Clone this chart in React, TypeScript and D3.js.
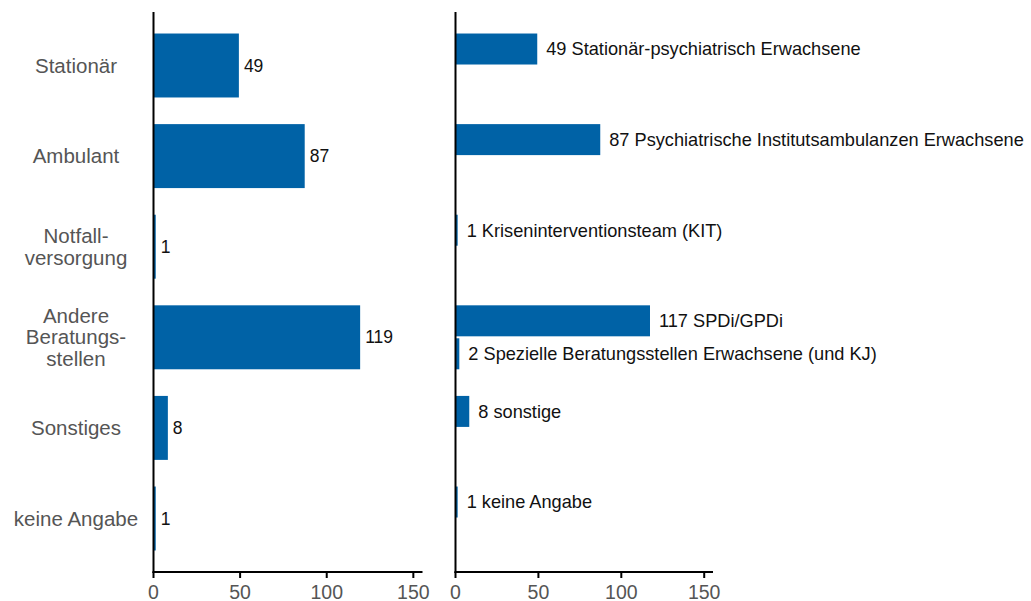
import React from "react";
import * as d3 from "d3";

const categories = [
  ["Stationär"],
  ["Ambulant"],
  ["Notfall-", "versorgung"],
  ["Andere", "Beratungs-", "stellen"],
  ["Sonstiges"],
  ["keine Angabe"],
];
const leftValues = [49, 87, 1, 119, 8, 1];

const rightLabels = [
  "Stationär-psychiatrisch Erwachsene",
  "Psychiatrische Institutsambulanzen Erwachsene",
  "Kriseninterventionsteam (KIT)",
  "SPDi/GPDi",
  "Spezielle Beratungsstellen Erwachsene (und KJ)",
  "sonstige",
  "keine Angabe",
];
const rightValues = [49, 87, 1, 117, 2, 8, 1];
const rightGroup = [0, 1, 2, 3, 3, 4, 5];
const rightSlot = [0, 0, 0, 0, 1, 0, 0];

const ticks = [0, 50, 100, 150];

const BLUE = "#0062a6";
const GRAY = "#555555";
const FONT = "'Liberation Sans', Arial, sans-serif";

export default function App() {
  const W = 1031, H = 601;
  const top = 12, bottom = 572;
  const idx = categories.map((_, i) => i);
  const y = d3.scaleBand<number>().domain(idx).range([top, bottom]).paddingInner(0.294).paddingOuter(0.2375);
  const xL = d3.scaleLinear().domain([0, 155]).range([154, 422.5]);
  const xR = d3.scaleLinear().domain([0, 155]).range([456, 713]);
  const sub = d3.scaleBand<number>().domain([0, 1]).range([0, y.bandwidth()]).paddingInner(0.06);

  return (
    <svg width={W} height={H} style={{ position: "absolute", left: 0, top: 0 }} fontFamily={FONT}>
      {/* left panel */}
      {leftValues.map((v, i) => (
        <g key={"l" + i}>
          <rect x={xL(0)} y={y(i)} width={xL(v) - xL(0)} height={y.bandwidth()} fill={BLUE} />
          <text x={xL(v) + 5} y={y(i)! + y.bandwidth() / 2} dy="0.35em" fontSize={17.5} fill="#111">{v}</text>
        </g>
      ))}
      {categories.map((lines, i) => {
        const c = y(i)! + y.bandwidth() / 2;
        const lh = 21.8;
        return (
          <text key={"c" + i} x={76} textAnchor="middle" fontSize={20.5} fill={GRAY}>
            {lines.map((t, j) => (
              <tspan key={j} x={76} y={c + (j - (lines.length - 1) / 2) * lh} dy="0.35em">{t}</tspan>
            ))}
          </text>
        );
      })}
      <line x1={xL(0) - 0.5} x2={xL(0) - 0.5} y1={top} y2={bottom + 1} stroke="#000" strokeWidth={2} />
      <line x1={xL(0) - 1.5} x2={xL.range()[1]} y1={bottom} y2={bottom} stroke="#000" strokeWidth={2} />
      {ticks.map((t) => (
        <g key={"tl" + t}>
          <line x1={xL(t) - 0.5} x2={xL(t) - 0.5} y1={bottom} y2={bottom + 6} stroke="#000" strokeWidth={2} />
          <text x={xL(t) - 0.5} y={bottom + 20} dy="0.35em" textAnchor="middle" fontSize={19.5} fill={GRAY}>{t}</text>
        </g>
      ))}

      {/* right panel */}
      {rightValues.map((v, i) => {
        const yy = y(rightGroup[i])! + sub(rightSlot[i])!;
        return (
          <g key={"r" + i}>
            <rect x={xR(0)} y={yy} width={xR(v) - xR(0)} height={sub.bandwidth()} fill={BLUE} />
            <text x={xR(v) + 9} y={yy + sub.bandwidth() / 2} dy="0.35em" fontSize={18.2} fill="#111">{v} {rightLabels[i]}</text>
          </g>
        );
      })}
      <line x1={xR(0) - 0.5} x2={xR(0) - 0.5} y1={top} y2={bottom + 1} stroke="#000" strokeWidth={2} />
      <line x1={xR(0) - 1.5} x2={xR.range()[1]} y1={bottom} y2={bottom} stroke="#000" strokeWidth={2} />
      {ticks.map((t) => (
        <g key={"tr" + t}>
          <line x1={xR(t) - 0.5} x2={xR(t) - 0.5} y1={bottom} y2={bottom + 6} stroke="#000" strokeWidth={2} />
          <text x={xR(t) - 0.5} y={bottom + 20} dy="0.35em" textAnchor="middle" fontSize={19.5} fill={GRAY}>{t}</text>
        </g>
      ))}
    </svg>
  );
}
